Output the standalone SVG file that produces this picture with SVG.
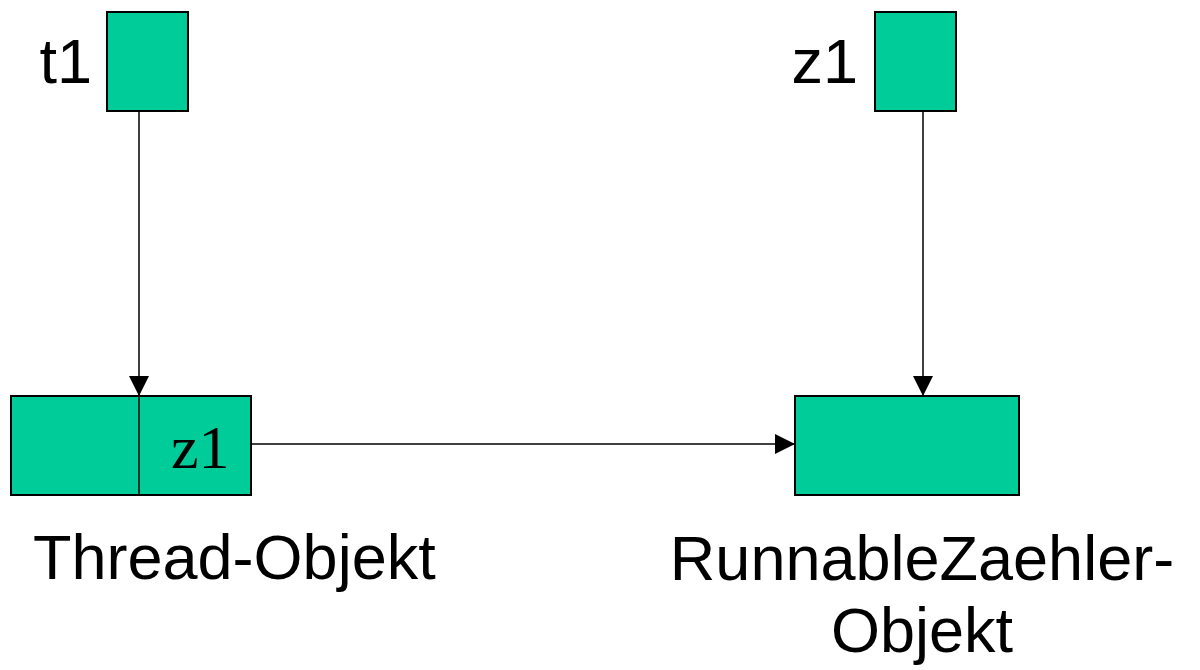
<svg xmlns="http://www.w3.org/2000/svg" width="1200" height="670" viewBox="0 0 1200 670">
<defs>
<style>
.box{fill:#00CC99;stroke:#000;stroke-width:2}
.lbl{font-family:"Liberation Sans",Arial,sans-serif;font-size:63px;fill:#000}
.ser{font-family:"Liberation Serif","Times New Roman",serif;font-size:62px;fill:#000}
.con{stroke:#000;stroke-width:1.5;fill:none}
</style>
<marker id="ah" markerWidth="20" markerHeight="20" refX="20" refY="10" orient="auto" markerUnits="userSpaceOnUse">
<path d="M0,0 L20,10 L0,20 Z" fill="#000"/>
</marker>
</defs>
<rect width="1200" height="670" fill="#fff"/>
<g id="t1">
<rect class="box" x="107" y="12" width="81" height="99"/>
<text class="lbl" x="92" y="83" text-anchor="end">t1</text>
</g>
<g id="z1">
<rect class="box" x="875" y="12" width="81" height="99"/>
<text class="lbl" x="858" y="83" text-anchor="end">z1</text>
</g>
<g id="thread">
<rect class="box" x="11" y="396" width="240" height="99"/>
<line x1="139" y1="396" x2="139" y2="494" stroke="#000" stroke-width="1.5"/>
<text class="ser" x="171" y="468">z1</text>
<text class="lbl" x="33" y="579">Thread-Objekt</text>
</g>
<g id="runnable">
<rect class="box" x="795" y="396" width="224" height="99"/>
<text class="lbl" x="922" y="580" text-anchor="middle">RunnableZaehler-</text>
<text class="lbl" x="922" y="652" text-anchor="middle">Objekt</text>
</g>
<g id="connectors">
<line class="con" x1="139" y1="110" x2="139" y2="396" marker-end="url(#ah)"/>
<line class="con" x1="923" y1="110" x2="923" y2="396" marker-end="url(#ah)"/>
<line class="con" x1="251" y1="444" x2="795" y2="444" marker-end="url(#ah)"/>
</g>
</svg>
